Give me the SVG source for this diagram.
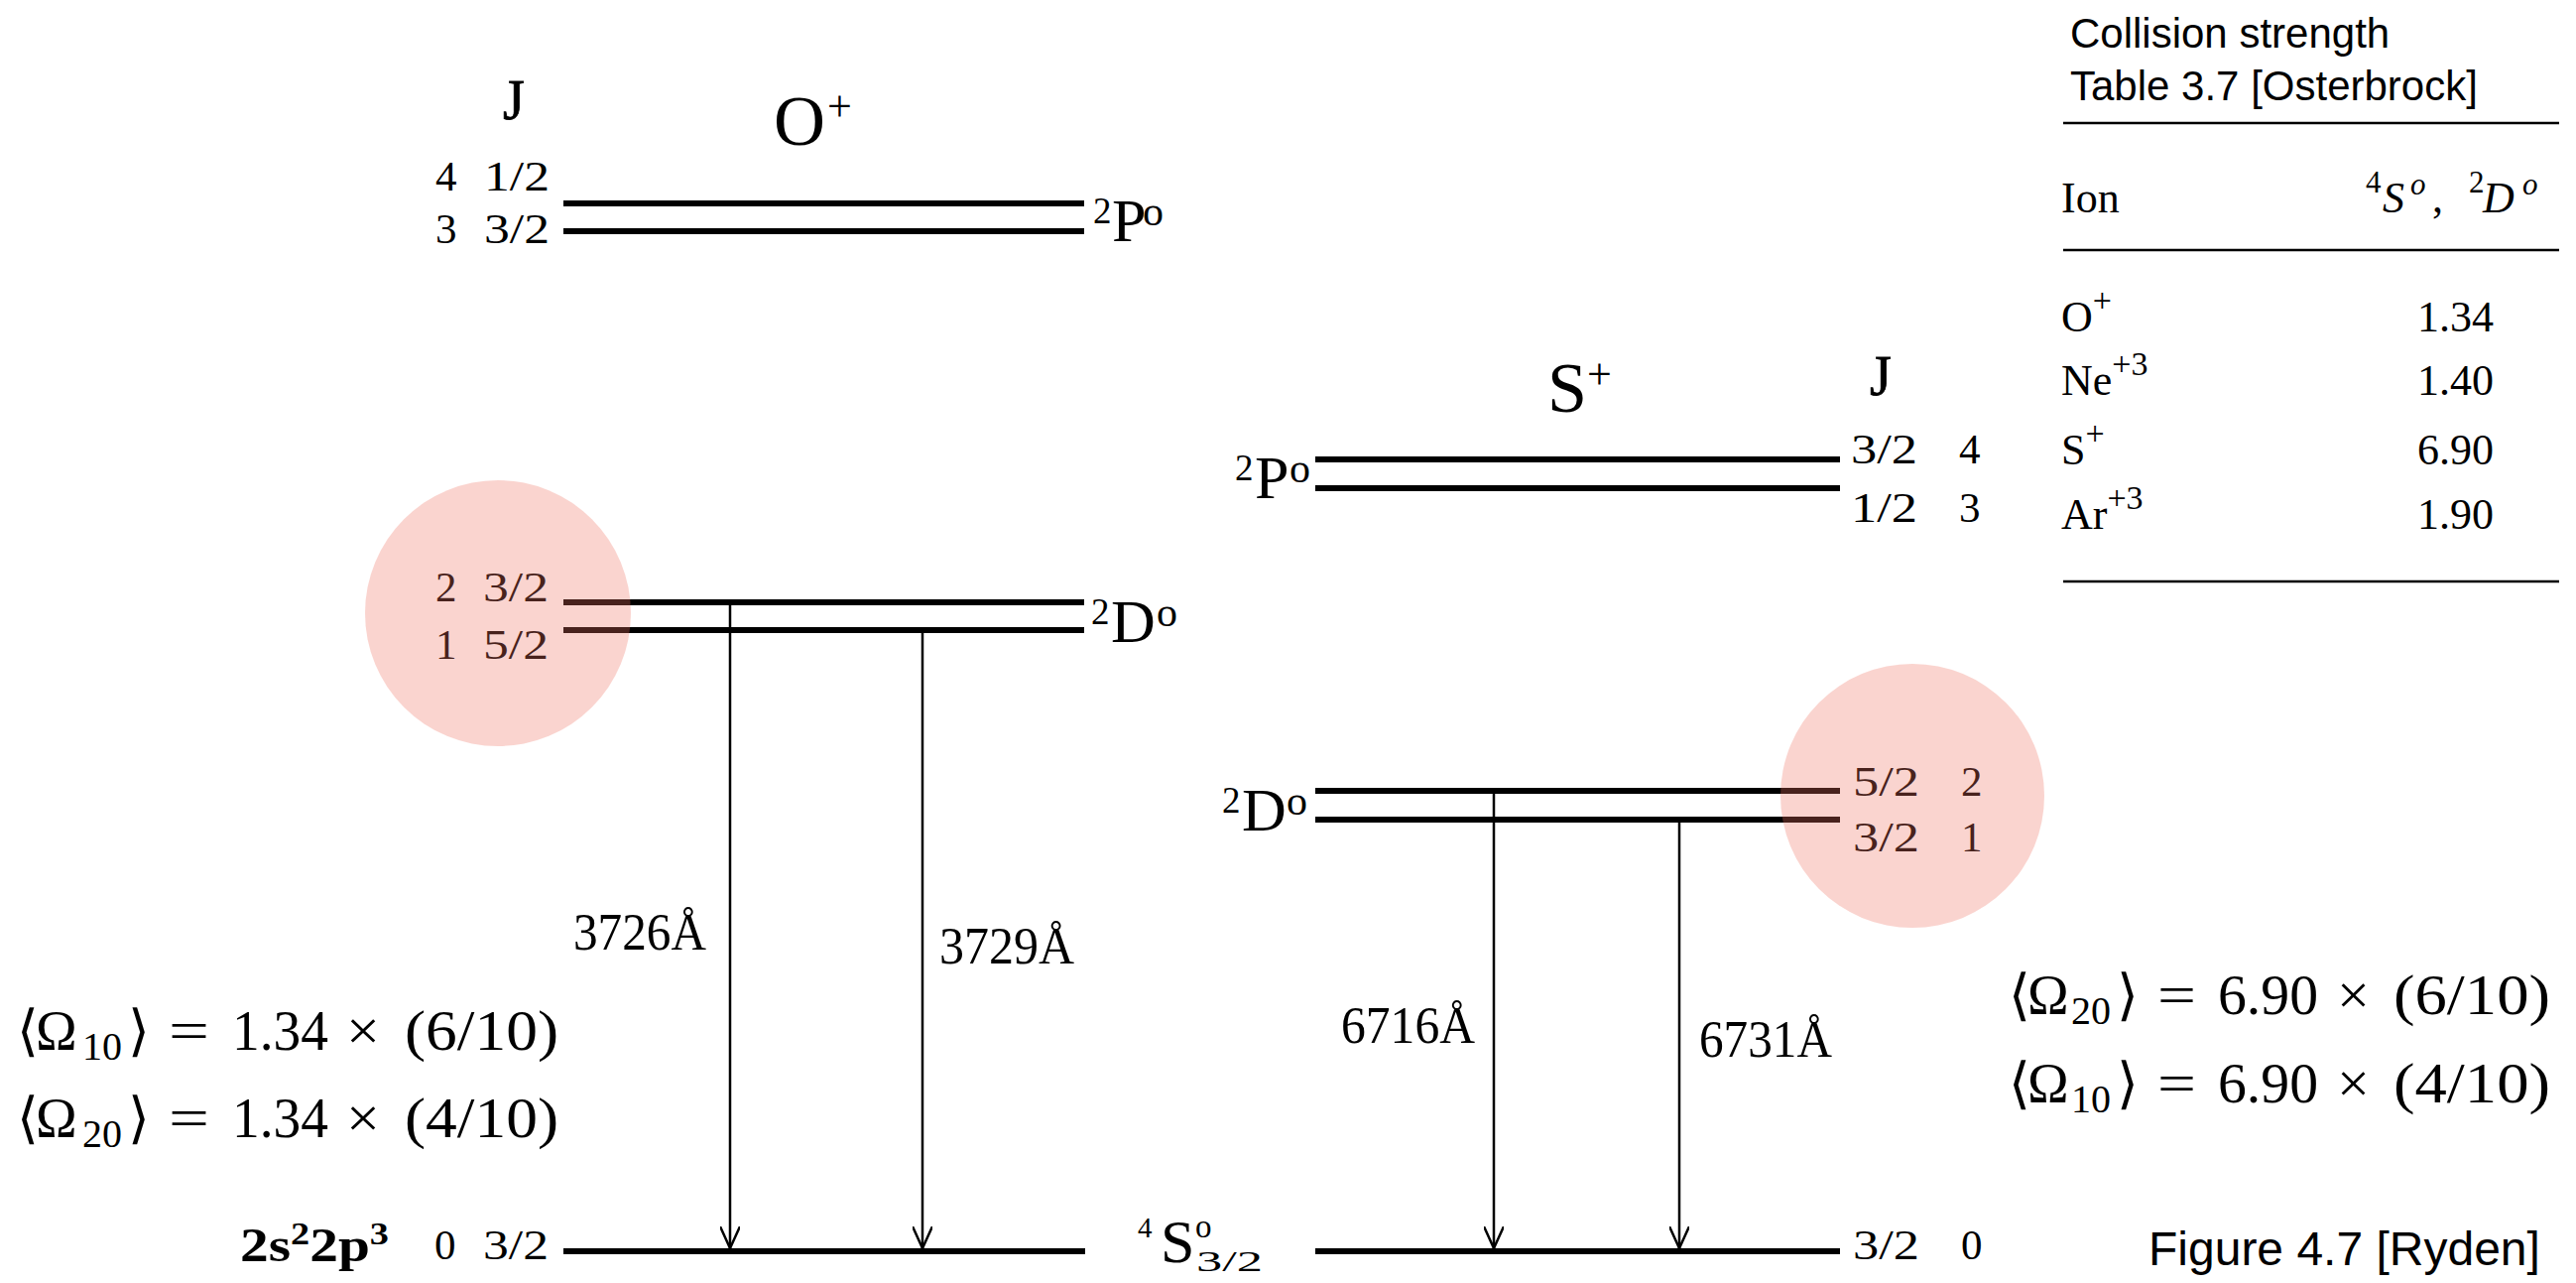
<svg xmlns="http://www.w3.org/2000/svg" width="2597" height="1293" viewBox="0 0 2597 1293">
<style>
.bg{fill:#fff}
.lvl{stroke:#000;stroke-width:6;fill:none}
.tr{stroke:#000;stroke-width:2.5;fill:none}
.hl{fill:#ef6f61;opacity:0.3}
.serif{font-family:"Liberation Serif","DejaVu Serif",serif;fill:#000}
.sans{font-family:"Liberation Sans",Arial,sans-serif;fill:#000}
.jl{font-size:43px}
.jhead{font-size:56px;stroke:#000;stroke-width:0.8}
.ttl{font-size:72px}
.sup{font-size:37px}
.big{font-size:62px}
.so{font-size:42px}
.wl{font-size:52px}
.math{font-family:"Liberation Serif","DejaVu Serif",serif;font-size:56px;fill:#000}
.msub{font-family:"Liberation Serif","DejaVu Serif",serif;font-size:40px;fill:#000}
.tab{font-family:"Liberation Serif","DejaVu Serif",serif;font-size:44px;fill:#000}
.tsup{font-family:"Liberation Serif","DejaVu Serif",serif;font-size:31px;fill:#000}
.it{font-style:italic}
.tline{stroke:#000;stroke-width:2.5}
</style>
<defs>
<marker id="arr" viewBox="0 0 22 20" refX="22" refY="10" markerWidth="22" markerHeight="20" markerUnits="userSpaceOnUse" orient="auto">
<path d="M0,0 L22,10 L0,20" fill="none" stroke="#000" stroke-width="2.5"/>
</marker>
</defs>
<rect class="bg" x="0" y="0" width="2597" height="1293"/>

<!-- O+ ion -->
<g id="oplus-title">
<text class="serif ttl" x="780" y="146">O</text>
<text class="serif" font-size="44" x="834" y="122">+</text>
<text class="serif jhead" x="507" y="120">J</text>
</g>
<g id="oplus-2P">
<line class="lvl" x1="568" y1="205" x2="1093" y2="205"/>
<line class="lvl" x1="568" y1="233" x2="1093" y2="233"/>
<text class="serif jl" x="439" y="192">4</text>
<text class="serif jl" x="488" y="192" textLength="66" lengthAdjust="spacingAndGlyphs">1/2</text>
<text class="serif jl" x="439" y="245">3</text>
<text class="serif jl" x="488" y="245" textLength="66" lengthAdjust="spacingAndGlyphs">3/2</text>
<text class="serif sup" x="1102" y="225">2</text>
<text class="serif big" x="1121" y="243">P</text>
<text class="serif so" x="1152" y="227">o</text>
</g>
<g id="oplus-2D">
<line class="lvl" x1="568" y1="607" x2="1093" y2="607"/>
<line class="lvl" x1="568" y1="635" x2="1093" y2="635"/>
<text class="serif jl" x="439" y="606">2</text>
<text class="serif jl" x="487" y="606" textLength="66" lengthAdjust="spacingAndGlyphs">3/2</text>
<text class="serif jl" x="439" y="664">1</text>
<text class="serif jl" x="487" y="664" textLength="66" lengthAdjust="spacingAndGlyphs">5/2</text>
<text class="serif sup" x="1100" y="629">2</text>
<text class="serif big" x="1120" y="647">D</text>
<text class="serif so" x="1166" y="631">o</text>
</g>
<g id="oplus-4S">
<line class="lvl" x1="568" y1="1261" x2="1094" y2="1261"/>
<text class="serif" font-size="48" font-weight="bold" x="242" y="1271" textLength="150" lengthAdjust="spacingAndGlyphs">2s<tspan font-size="32" dy="-17">2</tspan><tspan dy="17">2p</tspan><tspan font-size="32" dy="-17">3</tspan></text>
<text class="serif jl" x="438" y="1269">0</text>
<text class="serif jl" x="487" y="1269" textLength="66" lengthAdjust="spacingAndGlyphs">3/2</text>
<text class="serif" font-size="29" x="1147" y="1247">4</text>
<text class="serif" font-size="62" x="1170" y="1272">S</text>
<text class="serif" font-size="33" x="1205" y="1247">o</text>
<text class="serif" font-size="30" x="1206" y="1281" textLength="67" lengthAdjust="spacingAndGlyphs">3/2</text>
</g>
<g id="oplus-eq">
<text class="math" x="17" y="1058">⟨</text>
<text class="math" x="36" y="1058">Ω</text>
<text class="msub" x="83" y="1068">10</text>
<text class="math" x="129" y="1058">⟩</text>
<text class="math" x="170" y="1058" textLength="41" lengthAdjust="spacingAndGlyphs">=</text>
<text class="math" x="234" y="1058" textLength="97" lengthAdjust="spacingAndGlyphs">1.34</text>
<text class="math" x="349" y="1058" textLength="34" lengthAdjust="spacingAndGlyphs">×</text>
<text class="math" x="408" y="1058" textLength="155" lengthAdjust="spacingAndGlyphs">(6/10)</text>
<text class="math" x="17" y="1146">⟨</text>
<text class="math" x="36" y="1146">Ω</text>
<text class="msub" x="83" y="1156">20</text>
<text class="math" x="129" y="1146">⟩</text>
<text class="math" x="170" y="1146" textLength="41" lengthAdjust="spacingAndGlyphs">=</text>
<text class="math" x="234" y="1146" textLength="97" lengthAdjust="spacingAndGlyphs">1.34</text>
<text class="math" x="349" y="1146" textLength="34" lengthAdjust="spacingAndGlyphs">×</text>
<text class="math" x="408" y="1146" textLength="155" lengthAdjust="spacingAndGlyphs">(4/10)</text>
</g>

<!-- S+ ion -->
<g id="splus-title">
<text class="serif ttl" x="1560" y="415">S</text>
<text class="serif" font-size="44" x="1600" y="392">+</text>
<text class="serif jhead" x="1885" y="398">J</text>
</g>
<g id="splus-2P">
<line class="lvl" x1="1326" y1="463" x2="1855" y2="463"/>
<line class="lvl" x1="1326" y1="492" x2="1855" y2="492"/>
<text class="serif jl" x="1866" y="467" textLength="67" lengthAdjust="spacingAndGlyphs">3/2</text>
<text class="serif jl" x="1975" y="467">4</text>
<text class="serif jl" x="1866" y="526" textLength="67" lengthAdjust="spacingAndGlyphs">1/2</text>
<text class="serif jl" x="1975" y="526">3</text>
<text class="serif sup" x="1245" y="484">2</text>
<text class="serif big" x="1265" y="502">P</text>
<text class="serif so" x="1300" y="486">o</text>
</g>
<g id="splus-2D">
<line class="lvl" x1="1326" y1="797" x2="1855" y2="797"/>
<line class="lvl" x1="1326" y1="826" x2="1855" y2="826"/>
<text class="serif jl" x="1868" y="802" textLength="67" lengthAdjust="spacingAndGlyphs">5/2</text>
<text class="serif jl" x="1977" y="802">2</text>
<text class="serif jl" x="1868" y="858" textLength="67" lengthAdjust="spacingAndGlyphs">3/2</text>
<text class="serif jl" x="1977" y="858">1</text>
<text class="serif sup" x="1232" y="819">2</text>
<text class="serif big" x="1252" y="837">D</text>
<text class="serif so" x="1297" y="821">o</text>
</g>
<g id="splus-4S">
<line class="lvl" x1="1326" y1="1261" x2="1855" y2="1261"/>
<text class="serif jl" x="1868" y="1269" textLength="67" lengthAdjust="spacingAndGlyphs">3/2</text>
<text class="serif jl" x="1977" y="1269">0</text>
</g>
<g id="splus-eq">
<text class="math" x="2025" y="1022">⟨</text>
<text class="math" x="2044" y="1022">Ω</text>
<text class="msub" x="2088" y="1032">20</text>
<text class="math" x="2134" y="1022">⟩</text>
<text class="math" x="2175" y="1022" textLength="39" lengthAdjust="spacingAndGlyphs">=</text>
<text class="math" x="2236" y="1022" textLength="101" lengthAdjust="spacingAndGlyphs">6.90</text>
<text class="math" x="2356" y="1022" textLength="33" lengthAdjust="spacingAndGlyphs">×</text>
<text class="math" x="2413" y="1022" textLength="158" lengthAdjust="spacingAndGlyphs">(6/10)</text>
<text class="math" x="2025" y="1111">⟨</text>
<text class="math" x="2044" y="1111">Ω</text>
<text class="msub" x="2088" y="1121">10</text>
<text class="math" x="2134" y="1111">⟩</text>
<text class="math" x="2175" y="1111" textLength="39" lengthAdjust="spacingAndGlyphs">=</text>
<text class="math" x="2236" y="1111" textLength="101" lengthAdjust="spacingAndGlyphs">6.90</text>
<text class="math" x="2356" y="1111" textLength="33" lengthAdjust="spacingAndGlyphs">×</text>
<text class="math" x="2413" y="1111" textLength="158" lengthAdjust="spacingAndGlyphs">(4/10)</text>
</g>

<!-- transitions -->
<g id="connectors">
<line class="tr" x1="736" y1="607" x2="736" y2="1258" marker-end="url(#arr)"/>
<line class="tr" x1="930" y1="635" x2="930" y2="1258" marker-end="url(#arr)"/>
<line class="tr" x1="1506" y1="797" x2="1506" y2="1258" marker-end="url(#arr)"/>
<line class="tr" x1="1693" y1="826" x2="1693" y2="1258" marker-end="url(#arr)"/>
<text class="serif wl" x="578" y="957" textLength="134" lengthAdjust="spacingAndGlyphs">3726Å</text>
<text class="serif wl" x="947" y="971" textLength="136" lengthAdjust="spacingAndGlyphs">3729Å</text>
<text class="serif wl" x="1352" y="1051" textLength="135" lengthAdjust="spacingAndGlyphs">6716Å</text>
<text class="serif wl" x="1713" y="1065" textLength="134" lengthAdjust="spacingAndGlyphs">6731Å</text>
</g>

<!-- highlights -->
<g id="highlights">
<circle class="hl" cx="502" cy="618" r="134"/>
<circle class="hl" cx="1928" cy="802" r="133"/>
</g>

<!-- table -->
<g id="table">
<text class="sans" font-size="42" x="2087" y="48">Collision strength</text>
<text class="sans" font-size="42" x="2087" y="101">Table 3.7 [Osterbrock]</text>
<line class="tline" x1="2080" y1="124" x2="2580" y2="124"/>
<text class="tab" x="2078" y="214">Ion</text>
<text class="tsup" x="2385" y="194">4</text>
<text class="tab it" font-size="48" x="2402" y="214">S</text>
<text class="tsup it" x="2430" y="196">o</text>
<text class="tab" x="2452" y="214">,</text>
<text class="tsup" x="2489" y="194">2</text>
<text class="tab it" font-size="48" x="2503" y="214">D</text>
<text class="tsup it" x="2543" y="196">o</text>
<line class="tline" x1="2080" y1="252" x2="2580" y2="252"/>
<text class="tab" x="2078" y="334">O<tspan font-size="34" dy="-20">+</tspan></text>
<text class="tab" x="2078" y="398">Ne<tspan font-size="34" dy="-20">+3</tspan></text>
<text class="tab" x="2078" y="468">S<tspan font-size="34" dy="-20">+</tspan></text>
<text class="tab" x="2078" y="533">Ar<tspan font-size="34" dy="-20">+3</tspan></text>
<text class="tab" x="2437" y="334">1.34</text>
<text class="tab" x="2437" y="398">1.40</text>
<text class="tab" x="2437" y="468">6.90</text>
<text class="tab" x="2437" y="533">1.90</text>
<line class="tline" x1="2080" y1="586" x2="2580" y2="586"/>
</g>
<text class="sans" font-size="48" x="2166" y="1275">Figure 4.7 [Ryden]</text>
</svg>
